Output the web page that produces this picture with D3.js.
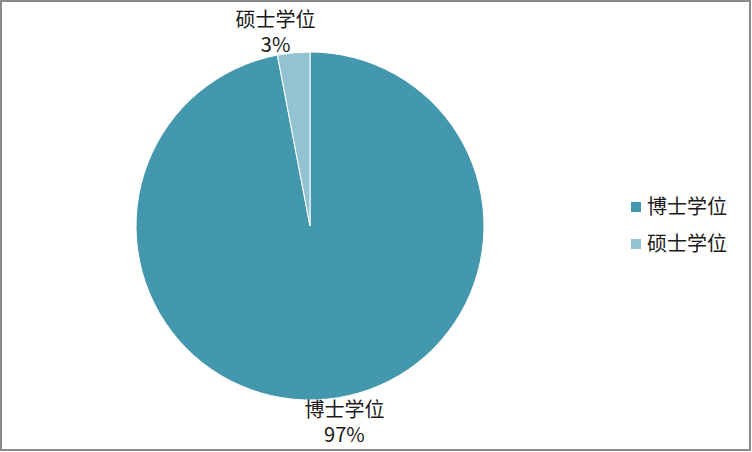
<!DOCTYPE html>
<meta charset="utf-8">
<script src="https://d3js.org/d3.v7.min.js"></script>
<head>
<style>
  body { margin: 0; background: #fff; }
  text { font-family: "Noto Sans CJK SC", "Noto Sans", sans-serif; fill: #1a1a1a; }
</style>
</head>
<body>
<div id="my_dataviz"></div>
<script>
// data
var categories = ["博士学位", "硕士学位"];
var values = [97, 3];
var colors = ["#4398ae", "#93c3d3"];

var width = 752, height = 452;
var cx = 310, cy = 226, radius = 174;

var svg = d3.select("#my_dataviz")
  .append("svg")
    .attr("width", width)
    .attr("height", height);

// chart border
svg.append("rect")
  .attr("x", 1).attr("y", 1)
  .attr("width", width - 3).attr("height", height - 3)
  .attr("fill", "none")
  .attr("stroke", "#8a8a8a")
  .attr("stroke-width", 2);

var data = categories.map(function(c, i) { return {name: c, value: values[i], color: colors[i]}; });

var pie = d3.pie().sort(null).value(function(d) { return d.value; });
var arcs = pie(data);
var arc = d3.arc().innerRadius(0).outerRadius(radius);

var g = svg.append("g")
  .attr("transform", "translate(" + cx + "," + cy + ")");

g.selectAll("path")
  .data(arcs)
  .enter()
  .append("path")
    .attr("d", arc)
    .attr("fill", function(d) { return d.data.color; })
    .attr("stroke", "#fff")
    .attr("stroke-width", 1);

// data labels (outside end), pushed a bit away from the vertical axis
var total = d3.sum(values);
var labelR = 198, nudge = 4.6 * Math.PI / 180;
var labels = g.selectAll(".lbl")
  .data(arcs)
  .enter()
  .append("text")
    .attr("class", "lbl")
    .attr("text-anchor", "middle")
    .style("font-size", "20px")
    .attr("transform", function(d) {
      var a = (d.startAngle + d.endAngle) / 2;
      a += (Math.sin(a) * Math.cos(a) < 0 ? -1 : 1) * nudge;
      var x = labelR * Math.sin(a), y = -labelR * Math.cos(a);
      return "translate(" + x + "," + y + ")";
    });

labels.append("tspan")
  .attr("x", 0).attr("dy", "-0.2em")
  .text(function(d) { return d.data.name; });
labels.append("tspan")
  .attr("x", 0).attr("dy", "1.25em")
  .text(function(d) { return Math.round(d.data.value / total * 100) + "%"; });

// legend
var legend = svg.append("g")
  .attr("transform", "translate(631,202)");

var item = legend.selectAll(".item")
  .data(data)
  .enter()
  .append("g")
    .attr("class", "item")
    .attr("transform", function(d, i) { return "translate(0," + (i * 37) + ")"; });

item.append("rect")
  .attr("width", 10).attr("height", 10)
  .attr("fill", function(d) { return d.color; });

item.append("text")
  .attr("x", 16).attr("y", 12)
  .style("font-size", "20px")
  .text(function(d) { return d.name; });
</script>
</body>
